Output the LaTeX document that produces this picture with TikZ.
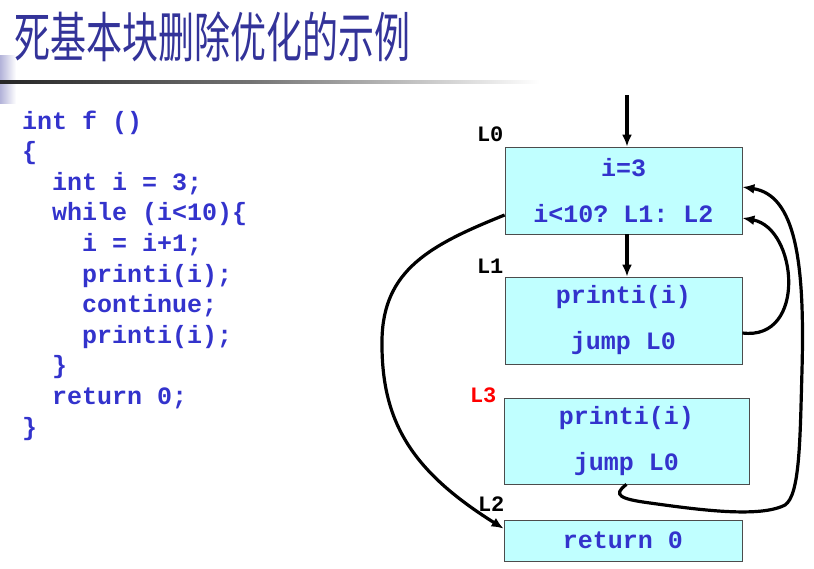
\documentclass[tikz,border=0pt]{standalone}
\usepackage{fontspec}
\setmonofont{Liberation Mono}
\newfontfamily\cjk{Noto Sans CJK SC}
\usetikzlibrary{arrows.meta}
\definecolor{titleblue}{HTML}{333399}
\definecolor{codeblue}{HTML}{3333CC}
\definecolor{boxfill}{HTML}{C0FFFF}
\tikzset{
  cfgbox/.style={
    % The shape:
    shape=rectangle,minimum width=237pt,minimum height=87pt,
    % The border:
    draw=black!70,line width=0.8pt,
    % The filling:
    fill=boxfill,
    % The text:
    align=center,text=codeblue,
    font=\ttfamily\bfseries\fontsize{25}{46}\selectfont}}
\tikzset{
  lbl/.style={
    anchor=base east,inner sep=0pt,
    font=\ttfamily\bfseries\fontsize{22}{22}\selectfont}}
\tikzset{
  codeline/.style={
    anchor=base west,inner sep=0pt,text=codeblue,
    font=\ttfamily\bfseries\fontsize{25}{30}\selectfont}}
\tikzset{
  flow/.style={line width=3.2pt,-{Latex[length=12pt,width=10pt]}}}

\begin{document}
\begin{tikzpicture}[x=1pt,y=-1pt]
	\useasboundingbox (0,0) rectangle (814,568);
	% Title and its rule
	\shade[left color=blue!50!black!30!white,right color=white] (0,55) rectangle (16,103);
	\shade[left color=black!85,right color=black!55] (0,80.5) rectangle (250,83.5);
	\shade[left color=black!55,right color=white] (250,80.5) rectangle (540,83.5);
	\node[anchor=west,inner sep=0pt,text=titleblue,font=\cjk\fontsize{36}{36}\selectfont,
		yscale=1.5,transform shape] (title) at (14,37) {死基本块删除优化的示例};
	% Source code
	\node[codeline] (c1) at (22,129) {int f ()};
	\node[codeline] (c2) at (22,159.6) {\{};
	\node[codeline] (c3) at (52,190.2) {int i = 3;};
	\node[codeline] (c4) at (52,220.8) {while (i<10)\{};
	\node[codeline] (c5) at (82,251.4) {i = i+1;};
	\node[codeline] (c6) at (82,282) {printi(i);};
	\node[codeline] (c7) at (82,312.6) {continue;};
	\node[codeline] (c8) at (82,343.2) {printi(i);};
	\node[codeline] (c9) at (52,373.8) {\}};
	\node[codeline] (c10) at (52,404.4) {return 0;};
	\node[codeline] (c11) at (22,435) {\}};
	% Basic blocks
	\node[cfgbox] (b0) at (623.5,190.5) {i=3\\i<10? L1: L2};
	\node[cfgbox] (b1) at (623.5,320.5) {printi(i)\\jump L0};
	\node[cfgbox,minimum width=245pt,minimum height=86pt] (b3) at (626.5,441) {printi(i)\\jump L0};
	\node[cfgbox,minimum width=238pt,minimum height=41pt] (b2) at (623,540.5) {return 0};
	% Block labels
	\node[lbl] (l0) at ([xshift=-1pt,yshift=5pt]b0.north west) {L0};
	\node[lbl] (l1) at ([xshift=-1pt,yshift=3pt]b1.north west) {L1};
	\node[lbl,text=red] (l3) at ([xshift=-7pt,yshift=-5pt]b3.north west) {L3};
	\node[lbl] (l2) at ([xshift=1pt,yshift=8pt]b2.north west) {L2};
	% Lines into and out of b0
	\coordinate (entry) at (627,95);
	\draw[flow] (entry) -- (entry |- b0.north);
	\draw[flow] ([xshift=3.5pt]b0.south) -- ([xshift=3.5pt]b1.north);
	\draw[flow] ([yshift=-24.5pt]b0.west) .. controls (430,245) and (383,270) .. (382,340)
		.. controls (381,420) and (410,470) .. ([yshift=-9pt]b2.north west);
	% Line out of b1
	\draw[flow] ([yshift=-12.5pt]b1.east) .. controls +(65,8) and +(55,10) .. ([yshift=-27.5pt]b0.east);
	% Line out of b3
	\draw[flow] (b3.south) .. controls (612,495) and (620,499) .. (650,503)
		.. controls (700,510) and (760,518) .. (785,505)
		.. controls (800,495) and (800,440) .. (802,370)
		.. controls (805,260) and (795,195) .. ([yshift=3.5pt]b0.east);
\end{tikzpicture}
\end{document}
